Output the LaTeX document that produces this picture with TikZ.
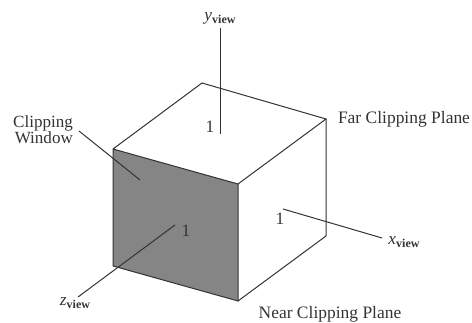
\documentclass[tikz,border=0pt]{standalone}
\usepackage{fontspec}
\setmainfont{Liberation Serif}
\definecolor{facegray}{HTML}{858585}
\definecolor{inkgray}{HTML}{333333}
\newcommand{\axislabel}[1]{\textit{#1}\raisebox{-2.5pt}{\fontsize{9}{9}\selectfont\bfseries view}}
\begin{document}
\begin{tikzpicture}[
    x=0.75pt, y=-0.75pt,
    edge/.style={draw=inkgray, line width=0.75pt},
    axis/.style={draw=inkgray, line width=0.75pt},
    caption/.style={text=inkgray, font=\fontsize{13.1}{13}\selectfont, inner sep=0pt},
    axisname/.style={text=inkgray, font=\fontsize{13}{13}\selectfont, inner sep=0pt},
    unit/.style={text=inkgray, font=\fontsize{13}{13}\selectfont, inner sep=0pt}
]
\useasboundingbox (0, 0) rectangle (472, 323);

% Cube corners
\coordinate (bt) at (202, 83);
\coordinate (lt) at (113, 149);
\coordinate (ft) at (238, 184);
\coordinate (rt) at (326, 119);
\coordinate (lb) at (113, 266);
\coordinate (fb) at (238, 301);
\coordinate (rb) at (326, 236);

% Near plane
\fill[facegray] (lt) -- (ft) -- (fb) -- (lb) -- cycle;

\draw[edge] (lt) -- (bt) -- (rt) -- (ft) -- (lt) -- (lb) -- (fb) -- (ft);
\draw[edge] (rt) -- (rb) -- (fb);

% Axes
\node[axisname] (yname) at (220, 18) {\axislabel{y}};
\coordinate (ytop) at (220, 28);
\coordinate (yend) at (220, 134);
\draw[axis] (ytop) -- (yend);
\node[unit] (y1) at (210, 127) {1};

\node[axisname] (zname) at (75, 303) {\axislabel{z}};
\coordinate (zlow) at (78, 297);
\coordinate (zend) at (175, 225);
\draw[axis] (zlow) -- (zend);
\node[unit] (z1) at (186, 231) {1};

\node[axisname] (xname) at (404, 242) {\axislabel{x}};
\coordinate (xlow) at (382, 238);
\coordinate (xend) at (283, 209);
\draw[axis] (xlow) -- (xend);
\node[unit] (x1) at (280, 219) {1};

% Labels
\node[caption, font=\fontsize{12.8}{13}\selectfont, align=right] (window) at (43, 129.5) {Clipping\\[-1pt]Window};
\coordinate (wstart) at (79, 131);
\coordinate (wend) at (140, 180);
\draw[axis] (wstart) -- (wend);

\node[caption] (far) at (404, 119) {Far Clipping Plane};
\node[caption] (near) at (330, 314) {Near Clipping Plane};

\end{tikzpicture}
\end{document}
